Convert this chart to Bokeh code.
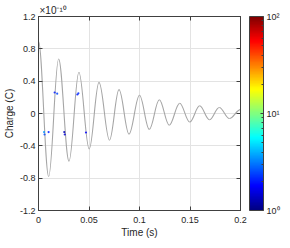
import numpy as np
from bokeh.plotting import figure
from bokeh.models import (Range1d, FixedTicker, LinearAxis, ColorBar, LogColorMapper,
                          ColumnDataSource)
from bokeh.transform import log_cmap
from bokeh.embed import file_html
from bokeh.resources import INLINE

# ---- data (charge in units of 1e-10 C) ----
ext_t = [0.0, 0.0101, 0.0199, 0.0302, 0.0400, 0.0502, 0.0599, 0.0703, 0.0797, 0.0896,
         0.1000, 0.1097, 0.1196, 0.1294, 0.1398, 0.1497, 0.1596, 0.1692, 0.1790, 0.1890, 0.2000]
ext_v = [0.89, -0.78, 0.675, -0.59, 0.51, -0.44, 0.385, -0.33, 0.295, -0.255,
         0.226, -0.196, 0.170, -0.145, 0.126, -0.106, 0.095, -0.078, 0.074, -0.062, 0.048]

mark_t = [0.0055, 0.0060, 0.0100, 0.0160, 0.0185, 0.0255, 0.0260, 0.0385, 0.0395, 0.0470]
mark_v = [-0.23, -0.26, -0.23, 0.26, 0.245, -0.23, -0.26, 0.235, 0.25, -0.235]
mark_c = [3.5, 2.5, 2.0, 2.0, 2.5, 1.3, 1.5, 2.0, 2.2, 1.8]

x_ticks = [0, 0.05, 0.1, 0.15, 0.2]
x_tick_labels = ["0", "0.05", "0.1", "0.15", "0.2"]
y_ticks = [-1.2, -0.8, -0.4, 0, 0.4, 0.8, 1.2]
y_tick_labels = ["-1.2", "-0.8", "-0.4", "0", "0.4", "0.8", "1.2"]
y_multiplier = "\u00d710\u207b\u00b9\u2070"
cb_ticks = [1, 10, 100]
cb_minor = [2, 3, 4, 5, 6, 7, 8, 9, 20, 30, 40, 50, 60, 70, 80, 90]
cb_labels = ["10\u2070", "10\u00b9", "10\u00b2"]

FONT = "Liberation Sans"
AX = "#404040"
TXT = "#262626"


def jet(n=256):
    s = np.linspace(0, 1, n)
    r = np.clip(1.5 - np.abs(4 * s - 3), 0, 1)
    g = np.clip(1.5 - np.abs(4 * s - 2), 0, 1)
    b = np.clip(1.5 - np.abs(4 * s - 1), 0, 1)
    return ["#%02x%02x%02x" % (int(round(a * 255)), int(round(c * 255)), int(round(d * 255)))
            for a, c, d in zip(r, g, b)]


palette = jet()

# smooth half-wave segments between successive extrema (cubic bezier)
t0 = np.array(ext_t[:-1]); t1 = np.array(ext_t[1:])
v0 = np.array(ext_v[:-1]); v1 = np.array(ext_v[1:])
k = 0.3642
dt = t1 - t0
seg = ColumnDataSource(dict(x0=t0, y0=v0, x1=t1, y1=v1,
                            cx0=t0 + k * dt, cy0=v0, cx1=t1 - k * dt, cy1=v1))

p = figure(width=282, height=240, x_range=Range1d(0, 0.2), y_range=Range1d(-1.2, 1.2),
           output_backend="svg", toolbar_location=None, title=y_multiplier,
           min_border_left=38, min_border_right=0, min_border_top=16, min_border_bottom=28)
p.background_fill_color = "white"
p.border_fill_color = "white"
p.outline_line_color = AX
p.outline_line_width = 1

p.title.text_font = FONT
p.title.text_font_size = "10px"
p.title.text_font_style = "normal"
p.title.text_color = TXT
p.title.align = "left"
p.title.standoff = 1
p.title.offset = 1

p.xaxis.ticker = FixedTicker(ticks=x_ticks)
p.yaxis.ticker = FixedTicker(ticks=y_ticks)
p.xaxis.major_label_overrides = dict(zip(x_ticks, x_tick_labels))
p.yaxis.major_label_overrides = dict(zip(y_ticks, y_tick_labels))
p.xaxis.axis_label = "Time (s)"
p.yaxis.axis_label = "Charge (C)"

for ax in (p.xaxis[0], p.yaxis[0]):
    ax.major_tick_in = 4
    ax.major_tick_out = 0
    ax.minor_tick_line_color = None
    ax.axis_line_color = AX
    ax.major_tick_line_color = AX
    ax.major_label_text_font = FONT
    ax.major_label_text_font_size = "9px"
    ax.major_label_text_color = TXT
    ax.axis_label_text_font = FONT
    ax.axis_label_text_font_size = "10px"
    ax.axis_label_text_font_style = "normal"
    ax.axis_label_text_color = TXT
p.xaxis.major_label_standoff = 6
p.xaxis.axis_label_standoff = 1
p.yaxis.major_label_standoff = 3
p.yaxis.axis_label_standoff = 2

p.xgrid.ticker = FixedTicker(ticks=x_ticks)
p.ygrid.ticker = FixedTicker(ticks=y_ticks)
p.grid.grid_line_color = "#e3e3e3"
p.grid.grid_line_width = 1

# box ticks on top and right
top = LinearAxis(ticker=FixedTicker(ticks=x_ticks), major_label_overrides={t: "" for t in x_ticks},
                 major_label_text_font_size="0px", major_tick_in=4, major_tick_out=0,
                 major_label_standoff=0, axis_line_color=AX, major_tick_line_color=AX,
                 minor_tick_line_color=None)
right = LinearAxis(ticker=FixedTicker(ticks=y_ticks), major_label_overrides={t: "" for t in y_ticks},
                   major_label_text_font_size="0px", major_tick_in=4, major_tick_out=0,
                   major_label_standoff=0, axis_line_color=AX, major_tick_line_color=AX,
                   minor_tick_line_color=None, axis_label="\u00a0",
                   axis_label_text_font_size="6px", axis_label_standoff=0)
p.add_layout(top, "above")
p.add_layout(right, "right")

p.bezier(x0="x0", y0="y0", x1="x1", y1="y1", cx0="cx0", cy0="cy0", cx1="cx1", cy1="cy1",
         source=seg, line_color="#a6a6a6", line_width=1.1)

msrc = ColumnDataSource(dict(t=mark_t, v=mark_v, c=mark_c))
p.scatter("t", "v", source=msrc, size=2.2, marker="circle", fill_alpha=0.85,
          fill_color=log_cmap("c", palette, 1, 100), line_color=None)

mapper = LogColorMapper(palette=palette, low=1, high=100)
cb = ColorBar(color_mapper=mapper, ticker=FixedTicker(ticks=cb_ticks, minor_ticks=cb_minor),
              major_label_overrides=dict(zip(cb_ticks, cb_labels)),
              width=14, padding=0, margin=0, label_standoff=3,
              bar_line_color=AX, major_tick_line_color=AX, major_tick_in=3,
              minor_tick_line_color=AX, minor_tick_in=2,
              major_label_text_font=FONT, major_label_text_font_size="9px",
              major_label_text_color=TXT, border_line_color=None,
              background_fill_color=None)
p.add_layout(cb, "right")

open("out.html", "w").write(file_html(p, INLINE))
